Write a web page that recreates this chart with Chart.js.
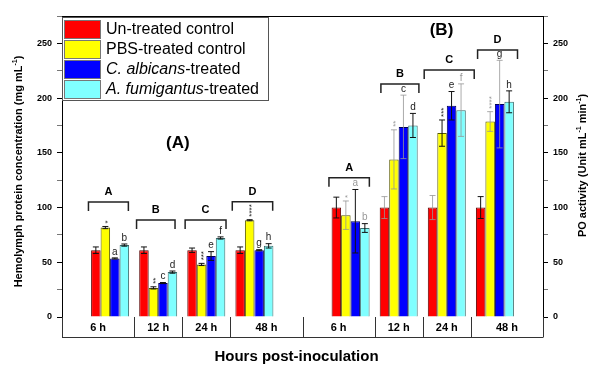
<!DOCTYPE html>
<html>
<head>
<meta charset="utf-8">
<script src="https://cdn.jsdelivr.net/npm/chart.js@4.4.1/dist/chart.umd.min.js"></script>
<style>
  html, body { margin: 0; padding: 0; background: #fff; }
  #wrap { position: relative; width: 589px; height: 365px; }
</style>
</head>
<body>
<div id="wrap"><canvas id="chart"></canvas></div>
<script>
// x slots: 1-4 = panel A, 6-9 = panel B (5 is the gap)
const groupX = [1, 2, 3, 4, 6, 7, 8, 9];
const seriesNames = ["Un-treated control", "PBS-treated control", "C. albicans-treated", "A. fumigantus-treated"];
const italicPrefix = ["", "", "C. albicans", "A. fumigantus"];

const untreated = [61, 61, 61, 61, 100, 100, 100, 100];
const untreatedErr = [3, 3, 2, 3, 9.5, 10, 11, 10];
const pbs = [81.7, 26.6, 48, 88.4, 93, 144, 168, 178.6];
const pbsErr = [1, 1, 1, 0.5, 13, 27, 12, 9];
const albicans = [53.5, 31, 55.7, 61, 87.5, 173.7, 193, 194.5];
const albicansErr = [0.5, 0.5, 4, 0.5, 29, 29, 13, 40];
const fumigatus = [65.7, 41, 72.2, 65, 81.3, 175, 189, 196.6];
const fumigatusErr = [1, 1, 1, 2, 4, 11, 24, 10];

const pbsMarks = ["*", "**", "***", "****", "*", "**", "***", "****"];
const albicansMarks = ["a", "c", "e", "g", "a", "c", "e", "g"];
const fumigatusMarks = ["b", "d", "f", "h", "b", "d", "f", "h"];

const boxEdges = [0, 1.5, 2.5, 3.5, 5, 6.5, 7.5, 8.5, 10];
const boxLabels = ["6 h", "12 h", "24 h", "48 h", "6 h", "12 h", "24 h", "48 h"];

const bracketFrom = [0.55, 1.55, 2.56, 3.54, 5.55, 6.63, 7.53, 8.64];
const bracketTo = [1.38, 2.35, 3.41, 4.38, 6.39, 7.42, 8.57, 9.47];
const bracketAt = [105, 88.6, 88.6, 105.3, 127.2, 212.8, 225.6, 243.9];
const bracketText = ["A", "B", "C", "D", "A", "B", "C", "D"];

const panelText = ["(A)", "(B)"];
const panelX = [2.41, 7.89];
const panelY = [159, 262];

const yMax = 275;
const yStep = 25;

// style bits
const FONT = "'Liberation Sans', Arial, sans-serif";
const colors = ["#ff0000", "#ffff00", "#0000ff", "#80ffff"];
const borders = ["#5a0000", "#5a5a00", "#00005a", "#3a6a6a"];
const faintErr = ["0-5", "0-6", "1-4", "1-5", "1-7", "2-5", "2-7", "3-6"];
const faintMark = ["1-4", "1-5", "1-7", "2-4", "3-4", "3-6"];

const values = [untreated, pbs, albicans, fumigatus];
const errors = [untreatedErr, pbsErr, albicansErr, fumigatusErr];
const marks = [null, pbsMarks, albicansMarks, fumigatusMarks];

function partFont(p, size) {
  const s = p.sup ? Math.round(size * 0.65) : size;
  return (p.italic ? "italic " : "") + (p.bold ? "bold " : "") + s + "px " + FONT;
}
function richWidth(ctx, parts, size) {
  let w = 0;
  parts.forEach((p) => { ctx.font = partFont(p, size); w += ctx.measureText(p.t).width; });
  return w;
}
function drawRich(ctx, parts, x, y, size) {
  let cx = x;
  parts.forEach((p) => {
    ctx.font = partFont(p, size);
    ctx.fillText(p.t, cx, p.sup ? y - size * 0.35 : y);
    cx += ctx.measureText(p.t).width;
  });
}

const overlay = {
  id: "overlay",
  afterDatasetsDraw(chart) {
    const ctx = chart.ctx;
    const y = chart.scales.y;
    ctx.save();
    // error bars
    values.forEach((vals, d) => {
      const meta = chart.getDatasetMeta(d);
      meta.data.forEach((bar, i) => {
        const e = errors[d][i];
        const hi = y.getPixelForValue(vals[i] + e);
        const lo = y.getPixelForValue(vals[i] - e);
        const faint = faintErr.includes(d + "-" + i);
        ctx.strokeStyle = faint ? "rgba(150,150,150,0.8)" : "#111";
        ctx.lineWidth = 1;
        ctx.beginPath();
        ctx.moveTo(bar.x, hi); ctx.lineTo(bar.x, lo);
        ctx.moveTo(bar.x - 3, hi); ctx.lineTo(bar.x + 3, hi);
        ctx.moveTo(bar.x - 3, lo); ctx.lineTo(bar.x + 3, lo);
        ctx.stroke();
        // significance marks
        const m = marks[d] && marks[d][i];
        if (!m) return;
        ctx.fillStyle = faintMark.includes(d + "-" + i) ? "#999" : "#222";
        if (m[0] === "*") {
          ctx.save();
          ctx.translate(bar.x + 2, hi - 3);
          ctx.rotate(-Math.PI / 2);
          ctx.font = "8px " + FONT;
          ctx.textAlign = "left";
          ctx.textBaseline = "middle";
          ctx.fillText(m, 0, 0);
          ctx.restore();
        } else {
          ctx.font = "10px " + FONT;
          ctx.textAlign = "center";
          ctx.textBaseline = "bottom";
          ctx.fillText(m, bar.x, hi - 1);
        }
      });
    });
    ctx.restore();
  },
  afterDraw(chart) {
    const ctx = chart.ctx;
    const a = chart.chartArea;
    const x = chart.scales.x;
    const y = chart.scales.y;
    ctx.save();
    ctx.strokeStyle = "#000";
    ctx.lineWidth = 1;
    // top frame line
    ctx.beginPath();
    ctx.moveTo(a.left, a.top + 0.5); ctx.lineTo(a.right, a.top + 0.5);
    ctx.stroke();

    // category box under the axis
    const boxH = 20;
    ctx.strokeStyle = "#333";
    ctx.beginPath();
    ctx.moveTo(a.left, a.bottom + boxH + 0.5); ctx.lineTo(a.right, a.bottom + boxH + 0.5);
    boxEdges.forEach((v) => {
      const px = Math.round(x.getPixelForValue(v)) + 0.5;
      ctx.moveTo(px, a.bottom); ctx.lineTo(px, a.bottom + boxH + 0.5);
    });
    ctx.stroke();
    ctx.fillStyle = "#000";
    ctx.font = "bold 11px " + FONT;
    ctx.textAlign = "center";
    ctx.textBaseline = "middle";
    boxLabels.forEach((t, i) => {
      const c = x.getPixelForValue((boxEdges[i] + boxEdges[i + 1]) / 2);
      ctx.fillText(t, c, a.bottom + boxH / 2 + 1);
    });

    // group brackets
    ctx.strokeStyle = "#222";
    ctx.lineWidth = 1.5;
    ctx.font = "bold 11px " + FONT;
    bracketText.forEach((t, i) => {
      const x0 = x.getPixelForValue(bracketFrom[i]);
      const x1 = x.getPixelForValue(bracketTo[i]);
      const py = y.getPixelForValue(bracketAt[i]);
      ctx.beginPath();
      ctx.moveTo(x0, py + 9); ctx.lineTo(x0, py); ctx.lineTo(x1, py); ctx.lineTo(x1, py + 9);
      ctx.stroke();
      ctx.fillText(t, (x0 + x1) / 2, py - 10);
    });

    // panel labels
    ctx.font = "bold 17px " + FONT;
    panelText.forEach((t, i) => {
      ctx.fillText(t, x.getPixelForValue(panelX[i]), y.getPixelForValue(panelY[i]));
    });

    // axis titles
    ctx.font = "bold 15px " + FONT;
    ctx.fillText("Hours post-inoculation", (a.left + a.right) / 2 - 6, a.bottom + 40);

    const leftTitle = [
      { t: "Hemolymph protein concentration (mg mL", bold: true },
      { t: "-1", bold: true, sup: true },
      { t: ")", bold: true },
    ];
    const rightTitle = [
      { t: "PO activity (Unit mL", bold: true },
      { t: "-1", bold: true, sup: true },
      { t: " min", bold: true },
      { t: "-1", bold: true, sup: true },
      { t: ")", bold: true },
    ];
    ctx.textAlign = "left";
    [[leftTitle, a.left - 43, (a.top + a.bottom) / 2 + 5], [rightTitle, a.right + 40, (a.top + a.bottom) / 2 - 1]].forEach(([parts, tx, ty]) => {
      ctx.save();
      ctx.translate(tx, ty);
      ctx.rotate(-Math.PI / 2);
      const w = richWidth(ctx, parts, 11);
      drawRich(ctx, parts, -w / 2, 0, 11);
      ctx.restore();
    });

    // legend
    const lx = a.left, ly = a.top + 1;
    ctx.fillStyle = "#fff";
    ctx.fillRect(lx, ly, 206, 83);
    ctx.strokeStyle = "#555";
    ctx.lineWidth = 1;
    ctx.strokeRect(lx + 0.5, ly + 0.5, 206, 83);
    seriesNames.forEach((name, i) => {
      const ry = ly + 3 + i * 20;
      ctx.fillStyle = colors[i];
      ctx.fillRect(lx + 2, ry, 36, 18);
      ctx.strokeStyle = "#777";
      ctx.strokeRect(lx + 2.5, ry + 0.5, 36, 18);
      ctx.fillStyle = "#000";
      ctx.textBaseline = "middle";
      const parts = [];
      if (italicPrefix[i]) parts.push({ t: italicPrefix[i], italic: true });
      parts.push({ t: name.slice(italicPrefix[i].length) });
      drawRich(ctx, parts, lx + 44, ry + 10, 16);
    });
    ctx.restore();
  },
};

const tickFont = { family: FONT, size: 9, weight: "bold" };
function yAxis(position, width) {
  return {
    type: "linear",
    position,
    min: 0,
    max: yMax,
    afterFit: (s) => { s.width = width; },
    ticks: {
      stepSize: yStep,
      autoSkip: false,
      padding: 5,
      color: "#000",
      font: tickFont,
      callback: (v) => (v % 50 === 0 ? v : ""),
    },
    grid: {
      drawOnChartArea: false,
      tickLength: 5,
      tickColor: (c) => (c.tick && c.tick.value % 50 === 0 ? "#000" : "#777"),
    },
    border: { color: "#000", width: 1 },
  };
}

new Chart(document.getElementById("chart"), {
  type: "bar",
  data: {
    datasets: values.map((vals, d) => ({
      label: seriesNames[d],
      data: groupX.map((gx, i) => ({ x: gx, y: vals[i] })),
      backgroundColor: colors[d],
      borderColor: borders[d],
      borderWidth: 1,
      borderSkipped: "bottom",
      categoryPercentage: 0.79,
      barPercentage: 1,
      yAxisID: "y",
    })),
  },
  options: {
    responsive: true,
    maintainAspectRatio: false,
    animation: false,
    layout: { padding: { top: 16, bottom: 48, left: 0, right: 0 } },
    plugins: { legend: { display: false }, tooltip: { enabled: false } },
    scales: {
      x: { type: "linear", min: 0, max: 10, offset: false, display: false, ticks: { stepSize: 1 } },
      y: yAxis("left", 62),
      y2: yAxis("right", 46),
    },
  },
  plugins: [overlay],
});
</script>
</body>
</html>
